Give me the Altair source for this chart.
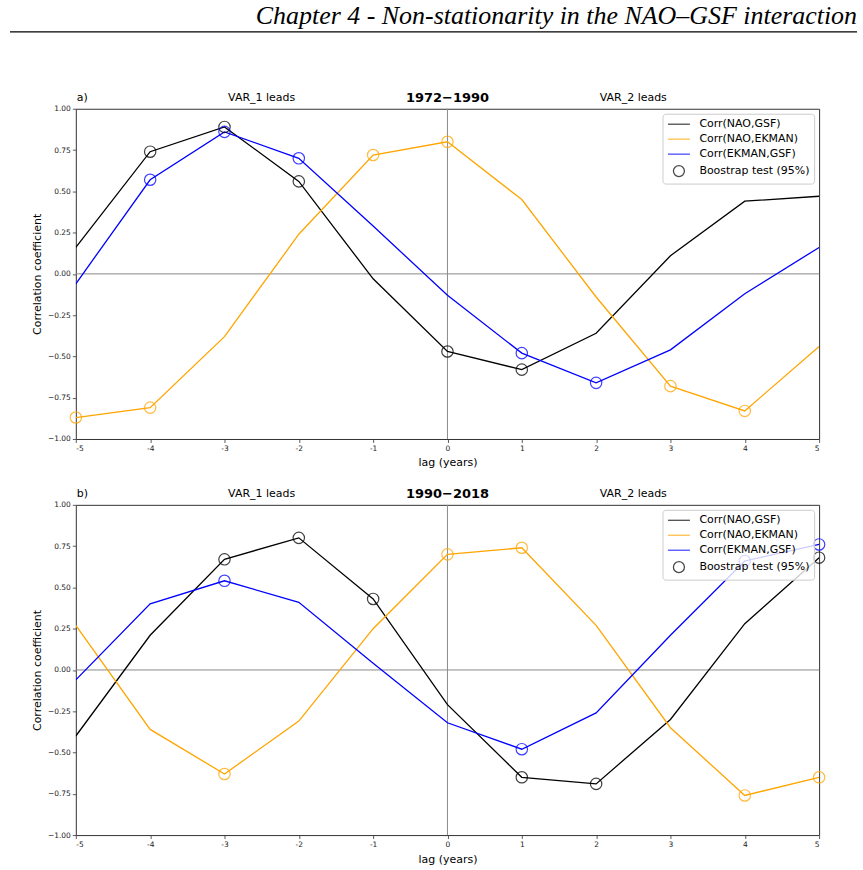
import altair as alt
import pandas as pd

# ---------------- data ----------------
lags = [-5, -4, -3, -2, -1, 0, 1, 2, 3, 4, 5]
series_names = ["Corr(NAO,GSF)", "Corr(NAO,EKMAN)", "Corr(EKMAN,GSF)"]
boot_name = "Boostrap test (95%)"
legend_names = series_names + [boot_name]
legend_colors = ["black", "orange", "blue", "black"]

# panel a) 1972-1990
a_nao_gsf = [0.16, 0.74, 0.89, 0.56, -0.03, -0.47, -0.58, -0.36, 0.11, 0.44, 0.47]
a_nao_ekman = [-0.87, -0.81, -0.38, 0.24, 0.72, 0.80, 0.45, -0.14, -0.68, -0.83, -0.44]
a_ekman_gsf = [-0.06, 0.57, 0.86, 0.70, 0.29, -0.13, -0.48, -0.66, -0.46, -0.12, 0.16]
a_sig_nao_gsf = [-4, -3, -2, 0, 1]
a_sig_nao_ekman = [-5, -4, -1, 0, 3, 4]
a_sig_ekman_gsf = [-4, -3, -2, 1, 2]

# panel b) 1990-2018
b_nao_gsf = [-0.40, 0.21, 0.67, 0.80, 0.43, -0.21, -0.65, -0.69, -0.30, 0.28, 0.68]
b_nao_ekman = [0.27, -0.36, -0.63, -0.31, 0.25, 0.70, 0.74, 0.27, -0.35, -0.76, -0.65]
b_ekman_gsf = [-0.06, 0.40, 0.54, 0.41, 0.04, -0.32, -0.48, -0.26, 0.21, 0.66, 0.76]
b_sig_nao_gsf = [-3, -2, -1, 1, 2, 5]
b_sig_nao_ekman = [-3, 0, 1, 4, 5]
b_sig_ekman_gsf = [-3, 1, 4, 5]

y_ticks = [-1.0, -0.75, -0.5, -0.25, 0.0, 0.25, 0.5, 0.75, 1.0]
chapter_title = "Chapter 4 - Non-stationarity in the NAO\u2013GSF interaction"

FONT = "DejaVu Sans"
W, H = 745, 331


def panel(letter, period, values, sigs, header=False):
    rows = []
    for name, vals, sig in zip(series_names, values, sigs):
        for lag, v in zip(lags, vals):
            rows.append({"lag": lag, "r": v, "name": name, "sig": lag in sig})
    df = pd.DataFrame(rows)

    x_enc = alt.X("lag:Q",
                  scale=alt.Scale(domain=[-5, 5], nice=False, zero=False),
                  axis=alt.Axis(values=lags, title="lag (years)",
                                labelExpr="'' + datum.value"))
    y_enc = alt.Y("r:Q",
                  scale=alt.Scale(domain=[-1, 1], nice=False),
                  axis=alt.Axis(values=y_ticks, format=".2f",
                                title="Correlation coefficient"))
    cscale = alt.Scale(domain=legend_names, range=legend_colors)

    leg_props = dict(
        title=None, orient="top-right", offset=5,
        fillColor="rgba(255,255,255,0.8)", strokeColor="#cccccc",
        cornerRadius=3, padding=4,
        labelFont=FONT, labelFontSize=11, labelColor="black",
        symbolSize=121, symbolStrokeWidth=1.3, symbolOffset=6,
        rowPadding=3, labelOffset=14,
    )
    leg_df = pd.DataFrame({"lag": [99] * 4, "r": [0.0] * 4, "name": legend_names})
    legend_layer = alt.Chart(leg_df).mark_point(
        filled=False, clip=True, strokeWidth=1.3, size=121
    ).encode(
        x=x_enc, y=y_enc,
        color=alt.Color("name:N", scale=cscale, legend=alt.Legend(**leg_props)),
        shape=alt.Shape("name:N",
                        scale=alt.Scale(domain=legend_names,
                                        range=["M-2,0H2", "M-2,0H2", "M-2,0H2", "circle"]),
                        legend=alt.Legend(**leg_props)),
    )

    hline = alt.Chart(pd.DataFrame({"r": [0.0]})).mark_rule(
        color="#8a8a8a", strokeWidth=1).encode(y=y_enc)
    vline = alt.Chart(pd.DataFrame({"lag": [0]})).mark_rule(
        color="#8a8a8a", strokeWidth=1).encode(x=x_enc)

    lines = alt.Chart(df).mark_line(strokeWidth=1.3, clip=True).encode(
        x=x_enc, y=y_enc,
        color=alt.Color("name:N", scale=cscale),
        detail="name:N",
    )
    circles = alt.Chart(df).transform_filter("datum.sig").mark_point(
        filled=False, size=130, strokeWidth=1.2, opacity=0.75, shape="circle"
    ).encode(
        x=x_enc, y=y_enc,
        color=alt.Color("name:N", scale=cscale),
    )

    tdf = pd.DataFrame({"lag": [-5, -2.5, 2.5], "txt": [letter, "VAR_1 leads", "VAR_2 leads"]})
    texts_left = alt.Chart(tdf.iloc[[0]]).mark_text(
        font=FONT, fontSize=11, align="left", baseline="middle", dx=1, color="black"
    ).encode(x=x_enc, y=alt.value(-11), text="txt:N")
    texts_mid = alt.Chart(tdf.iloc[[1, 2]]).mark_text(
        font=FONT, fontSize=11, align="center", baseline="middle", color="black"
    ).encode(x=x_enc, y=alt.value(-11), text="txt:N")
    title_txt = alt.Chart(pd.DataFrame({"lag": [0], "txt": [period]})).mark_text(
        font=FONT, fontSize=13, fontWeight="bold", align="center", baseline="middle", color="black"
    ).encode(x=x_enc, y=alt.value(-11), text="txt:N")

    layers = [legend_layer, hline, vline, lines, circles, texts_left, texts_mid, title_txt]

    if header:
        hdf = pd.DataFrame({"t": [chapter_title]})
        htext = alt.Chart(hdf).mark_text(
            font="Liberation Serif", fontStyle="italic", fontSize=26,
            align="right", baseline="alphabetic", color="black"
        ).encode(x=alt.value(783), y=alt.value(-85), text="t:N")
        hrule = alt.Chart(hdf).mark_rule(color="black", strokeWidth=1.2).encode(
            x=alt.value(-66), x2=alt.value(783), y=alt.value(-77))
        layers += [htext, hrule]

    return alt.layer(*layers).properties(width=W, height=H)


pa = panel("a)", "1972\u22121990", [a_nao_gsf, a_nao_ekman, a_ekman_gsf],
           [a_sig_nao_gsf, a_sig_nao_ekman, a_sig_ekman_gsf], header=True)
pb = panel("b)", "1990\u22122018", [b_nao_gsf, b_nao_ekman, b_ekman_gsf],
           [b_sig_nao_gsf, b_sig_nao_ekman, b_sig_ekman_gsf])

chart = alt.vconcat(pa, pb, spacing=66, bounds="flush").resolve_scale(
    color="independent", shape="independent"
).resolve_legend(color="independent", shape="independent").properties(
    padding={"left": 8, "top": 1, "right": 4, "bottom": 2}, background="white"
).configure_view(stroke="#333333", strokeWidth=1).configure_axis(
    grid=False, domain=False,
    labelFont=FONT, labelFontSize=7.5, labelColor="#222222", labelPadding=2,
    tickSize=3.5, tickColor="#333333", tickWidth=0.8,
    titleFont=FONT, titleFontSize=11, titleFontWeight="normal", titleColor="black",
).configure_axisX(titlePadding=5).configure_axisY(titlePadding=5)

chart.save("out.html", embed_options={"renderer": "svg", "actions": False})
